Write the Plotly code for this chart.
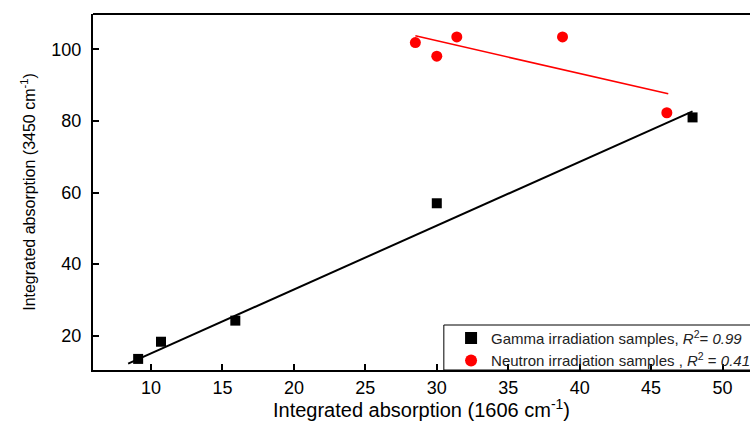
import plotly.graph_objects as go

# Integrated absorption at 1606 cm-1 (x) vs 3450 cm-1 (y)
gamma_x = [9.1, 10.7, 15.9, 30.0, 47.9]
gamma_y = [13.5, 18.3, 24.2, 57.0, 81.0]
neutron_x = [28.5, 30.0, 31.4, 38.8, 46.1]
neutron_y = [101.9, 98.1, 103.5, 103.5, 82.3]

# Linear fit lines (end points)
gamma_fit_x = [8.4, 47.9]
gamma_fit_y = [12.2, 82.7]
neutron_fit_x = [28.5, 46.2]
neutron_fit_y = [103.8, 87.6]

x_ticks = [10, 15, 20, 25, 30, 35, 40, 45, 50]
y_ticks = [20, 40, 60, 80, 100]

FONT = "Liberation Sans, Arial, sans-serif"

fig = go.Figure()
fig.add_trace(go.Scatter(
    x=gamma_fit_x, y=gamma_fit_y, mode="lines",
    line=dict(color="black", width=2), showlegend=False, hoverinfo="skip"))
fig.add_trace(go.Scatter(
    x=neutron_fit_x, y=neutron_fit_y, mode="lines",
    line=dict(color="#ff0000", width=1.6), showlegend=False, hoverinfo="skip"))
fig.add_trace(go.Scatter(
    x=gamma_x, y=gamma_y, mode="markers",
    marker=dict(symbol="square", size=10, color="black"),
    name="Gamma irradiation samples, <i>R</i><sup>2</sup>= <i>0.99</i>"))
fig.add_trace(go.Scatter(
    x=neutron_x, y=neutron_y, mode="markers",
    marker=dict(symbol="circle", size=11, color="#ff0000"),
    name="Neutron irradiation samples , <i>R</i><sup>2</sup> = <i>0.41</i>"))

# legend frame and top border of the plot area
fig.add_shape(type="rect", xref="paper", yref="paper",
              x0=0.534, x1=1.1, y0=0, y1=0.1264,
              line=dict(color="black", width=1), fillcolor="white", layer="below")
fig.add_shape(type="line", xref="paper", yref="paper",
              x0=0, x1=1, y0=1, y1=1, line=dict(color="black", width=2))

fig.update_layout(
    width=750, height=421,
    margin=dict(l=93, r=0, t=14, b=51, autoexpand=False),
    paper_bgcolor="white", plot_bgcolor="white",
    font=dict(family=FONT, color="black"),
    legend=dict(
        x=0.545, xanchor="left", y=-0.019, yanchor="bottom",
        borderwidth=0, bgcolor="rgba(0,0,0,0)",
        font=dict(size=15, family=FONT, color="#222"),
        tracegroupgap=0, itemsizing="constant",
    ),
    xaxis=dict(
        range=[5.94, 51.92], tickvals=x_ticks, ticks="inside", ticklen=6,
        tickwidth=1.5, tickcolor="black", showline=True, linewidth=2,
        linecolor="black", mirror=False, showgrid=False, zeroline=False,
        tickfont=dict(size=18),
        title=dict(text="Integrated absorption (1606 cm<sup>-1</sup>)",
                   font=dict(size=20), standoff=10),
    ),
    yaxis=dict(
        range=[10.4, 109.9], tickvals=y_ticks, ticks="inside", ticklen=6,
        tickwidth=1.5, tickcolor="black", showline=True, linewidth=2,
        linecolor="black", showgrid=False, zeroline=False,
        tickfont=dict(size=18), ticklabelstandoff=6,
        title=dict(text="Integrated absorption (3450 cm<sup>-1</sup>)",
                   font=dict(size=16), standoff=12),
    ),
)

fig.write_html("out.html")
